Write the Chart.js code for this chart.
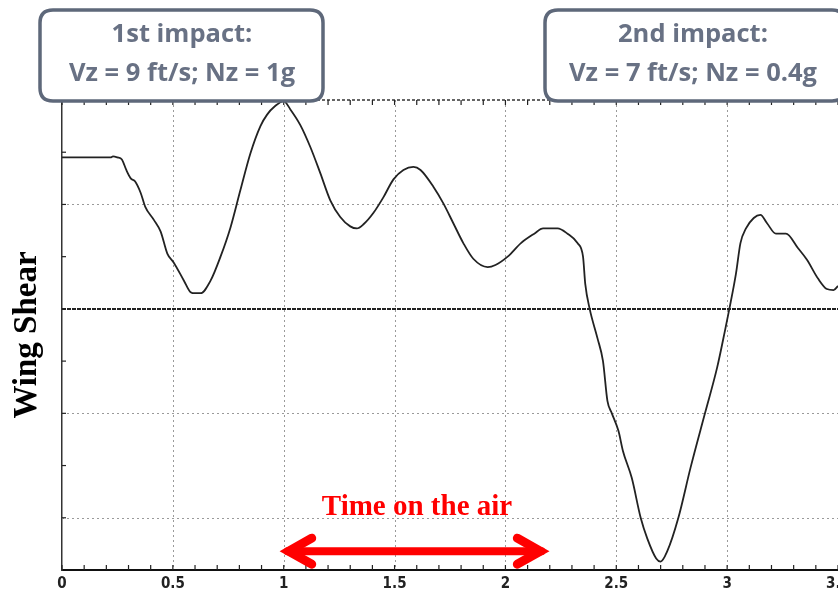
<!DOCTYPE html>
<meta charset="utf-8">
<html>
  <head>
    <script src="https://cdn.jsdelivr.net/npm/chart.js"></script>
    <style>
      body { margin: 0; background: #fff; }
      #wrap { width: 838px; height: 592px; position: relative; }
    </style>
  </head>
  <body>
    <div id="wrap">
      <canvas id="chart"></canvas>
    </div>
  </body>

  <script>
    // time (s) and wing shear
    const timeS = [
      0, 0.1, 0.219, 0.23, 0.25, 0.27, 0.29, 0.31, 0.33, 0.355, 0.375, 0.415, 0.445, 0.475, 0.505,
      0.55, 0.58, 0.6, 0.625, 0.67, 0.715, 0.76, 0.805, 0.85, 0.895, 0.925, 0.96, 1.0, 1.03,
      1.075, 1.12, 1.165, 1.21, 1.255, 1.3, 1.33, 1.36, 1.405, 1.45, 1.495, 1.54, 1.585, 1.617,
      1.675, 1.72, 1.765, 1.81, 1.855, 1.92, 1.955, 2.01, 2.07, 2.13, 2.17, 2.235, 2.28, 2.325,
      2.35, 2.36, 2.38, 2.415, 2.44, 2.46, 2.48, 2.51, 2.53, 2.57, 2.61, 2.64, 2.68, 2.7, 2.73,
      2.78, 2.835, 2.9, 2.955, 2.99, 3.01, 3.04, 3.06, 3.085, 3.12, 3.15, 3.18, 3.22, 3.265,
      3.32, 3.36, 3.41, 3.45, 3.48, 3.5
    ];
    const shear = [
      1.45, 1.45, 1.45, 1.46, 1.45, 1.43, 1.33, 1.25, 1.22, 1.11, 0.98, 0.85, 0.74, 0.53, 0.44,
      0.27, 0.16, 0.15, 0.15, 0.27, 0.5, 0.78, 1.14, 1.49, 1.75, 1.86, 1.94, 1.99, 1.91,
      1.76, 1.55, 1.3, 1.04, 0.88, 0.79, 0.77, 0.81, 0.92, 1.07, 1.24, 1.33, 1.36, 1.33,
      1.17, 1.01, 0.82, 0.63, 0.48, 0.4, 0.42, 0.5, 0.63, 0.72, 0.77, 0.77, 0.72, 0.63,
      0.5, 0.24, 0, -0.28, -0.5, -0.88, -1.0, -1.17, -1.36, -1.62, -2.0, -2.2, -2.39, -2.42, -2.32,
      -2.0, -1.52, -1.0, -0.56, -0.21, 0, 0.34, 0.63, 0.77, 0.87, 0.9, 0.82, 0.72, 0.72,
      0.58, 0.47, 0.29, 0.19, 0.18, 0.22
    ];
    const xTicks = [0, 0.5, 1, 1.5, 2, 2.5, 3, 3.5];
    const yGrid = [-2, -1, 0, 1, 2];

    const impacts = [
      { line1: '1st impact:', line2: 'Vz = 9 ft/s; Nz = 1g' },
      { line1: '2nd impact:', line2: 'Vz = 7 ft/s; Nz = 0.4g' }
    ];
    const airStart = 1.0;
    const airEnd = 2.18;
    const airLevel = -2.32;
    const airLabel = 'Time on the air';

    function roundRect(ctx, x, y, w, h, r) {
      ctx.beginPath();
      ctx.moveTo(x + r, y);
      ctx.lineTo(x + w - r, y);
      ctx.quadraticCurveTo(x + w, y, x + w, y + r);
      ctx.lineTo(x + w, y + h - r);
      ctx.quadraticCurveTo(x + w, y + h, x + w - r, y + h);
      ctx.lineTo(x + r, y + h);
      ctx.quadraticCurveTo(x, y + h, x, y + h - r);
      ctx.lineTo(x, y + r);
      ctx.quadraticCurveTo(x, y, x + r, y);
      ctx.closePath();
    }

    // dotted grid, drawn from the scales' own ticks
    const dottedGrid = {
      id: 'dottedGrid',
      beforeDatasetsDraw(chart) {
        const ctx = chart.ctx;
        const area = chart.chartArea;
        const xs = chart.scales.x;
        const ys = chart.scales.y;
        ctx.save();
        ctx.lineWidth = 1;
        ctx.strokeStyle = '#9a9a9a';
        ctx.setLineDash([2, 3]);
        xs.ticks.forEach(function(t) {
          if (t.value <= 0 || t.value >= 3.5) return;
          const px = Math.round(xs.getPixelForValue(t.value)) + 0.5;
          ctx.beginPath();
          ctx.moveTo(px, area.top);
          ctx.lineTo(px, area.bottom);
          ctx.stroke();
        });
        ys.ticks.forEach(function(t) {
          if (t.value === 0 || t.value >= 2) return;
          const py = Math.round(ys.getPixelForValue(t.value)) + 0.5;
          ctx.beginPath();
          ctx.moveTo(area.left, py);
          ctx.lineTo(area.right, py);
          ctx.stroke();
        });
        // zero line
        const y0 = ys.getPixelForValue(0);
        ctx.strokeStyle = '#222';
        ctx.lineWidth = 2;
        ctx.setLineDash([4, 1]);
        ctx.beginPath();
        ctx.moveTo(area.left, y0);
        ctx.lineTo(area.right, y0);
        ctx.stroke();
        ctx.restore();
      }
    };

    const extras = {
      id: 'extras',
      afterDraw(chart) {
        const ctx = chart.ctx;
        const area = chart.chartArea;
        const xs = chart.scales.x;
        const ys = chart.scales.y;
        ctx.save();

        // top border, dashed
        ctx.strokeStyle = '#333';
        ctx.lineWidth = 1.5;
        ctx.setLineDash([3, 2]);
        ctx.beginPath();
        ctx.moveTo(area.left, area.top);
        ctx.lineTo(area.right, area.top);
        ctx.stroke();
        ctx.setLineDash([]);

        // inner minor ticks
        ctx.strokeStyle = '#222';
        ctx.lineWidth = 1.2;
        for (let i = 0; i <= 35; i++) {
          const px = xs.getPixelForValue(i / 10);
          ctx.beginPath();
          ctx.moveTo(px, area.bottom);
          ctx.lineTo(px, area.bottom - 5);
          ctx.moveTo(px, area.top);
          ctx.lineTo(px, area.top + 5);
          ctx.stroke();
        }
        for (let v = -2; v <= 2; v += 0.5) {
          const py = ys.getPixelForValue(v);
          ctx.beginPath();
          ctx.moveTo(area.left, py);
          ctx.lineTo(area.left + 4, py);
          ctx.stroke();
        }

        // impact boxes
        const boxes = [{ x: 40, w: 283, cx: 182 }, { x: 545, w: 300, cx: 693 }];
        impacts.forEach(function(imp, i) {
          const b = boxes[i];
          roundRect(ctx, b.x, 10, b.w, 91, 13);
          ctx.fillStyle = '#fff';
          ctx.fill();
          ctx.strokeStyle = '#5e687a';
          ctx.lineWidth = 3.5;
          ctx.stroke();
          ctx.fillStyle = '#687184';
          ctx.font = 'bold 25.5px "Open Sans", "Noto Sans", sans-serif';
          ctx.textAlign = 'center';
          ctx.textBaseline = 'middle';
          ctx.fillText(imp.line1, b.cx, 35);
          ctx.fillText(imp.line2, b.cx, 74);
        });

        // time on the air arrow
        const ax1 = xs.getPixelForValue(airStart);
        const ax2 = xs.getPixelForValue(airEnd);
        const ay = ys.getPixelForValue(airLevel);
        ctx.strokeStyle = '#ff0000';
        ctx.lineCap = 'round';
        ctx.lineJoin = 'miter';
        ctx.lineWidth = 8;
        ctx.beginPath();
        ctx.moveTo(ax1 + 4, ay);
        ctx.lineTo(ax2 - 4, ay);
        ctx.stroke();
        ctx.lineWidth = 9;
        ctx.beginPath();
        ctx.moveTo(ax1 + 28, ay - 13);
        ctx.lineTo(ax1 + 5, ay);
        ctx.lineTo(ax1 + 28, ay + 13);
        ctx.moveTo(ax2 - 28, ay - 13);
        ctx.lineTo(ax2 - 5, ay);
        ctx.lineTo(ax2 - 28, ay + 13);
        ctx.stroke();

        ctx.fillStyle = '#ff0000';
        ctx.font = 'bold 29px "Liberation Serif", serif';
        ctx.textAlign = 'center';
        ctx.textBaseline = 'alphabetic';
        ctx.fillText(airLabel, 417, 515);

        ctx.restore();
      }
    };

    const points = timeS.map(function(t, i) { return { x: t, y: shear[i] }; });

    new Chart(document.getElementById('chart'), {
      type: 'line',
      data: {
        datasets: [{
          data: points,
          borderColor: '#222',
          borderWidth: 1.8,
          pointRadius: 0,
          cubicInterpolationMode: 'monotone',
          fill: false
        }]
      },
      options: {
        responsive: true,
        maintainAspectRatio: false,
        animation: false,
        layout: { padding: { top: 100, right: 0, left: 0, bottom: 0 } },
        plugins: {
          legend: { display: false },
          tooltip: { enabled: false }
        },
        scales: {
          x: {
            type: 'linear',
            min: 0,
            max: 3.5,
            afterBuildTicks: function(scale) {
              scale.ticks = xTicks.map(function(v) { return { value: v }; });
            },
            afterFit: function(scale) {
              scale.height = 22;
              scale.paddingRight = 0;
              scale.paddingLeft = 0;
            },
            ticks: {
              color: '#222',
              padding: 5,
              maxRotation: 0,
              font: { family: '"Liberation Sans Narrow", "DejaVu Sans Condensed", sans-serif', size: 15, weight: 'bold' },
              callback: function(v) { return String(v); }
            },
            grid: { display: false, drawTicks: false },
            border: { display: true, color: '#111', width: 2 }
          },
          y: {
            min: -2.5,
            max: 2,
            afterBuildTicks: function(scale) {
              scale.ticks = yGrid.map(function(v) { return { value: v }; });
            },
            afterFit: function(scale) {
              scale.width = 62;
            },
            ticks: { display: false },
            title: {
              display: true,
              text: 'Wing Shear',
              color: '#000',
              font: { family: '"Liberation Serif", serif', size: 33, weight: 'bold' },
              padding: { top: 8, bottom: 0 }
            },
            grid: { display: false, drawTicks: false },
            border: { display: true, color: '#333', width: 1.5, dash: [3, 2] }
          }
        }
      },
      plugins: [dottedGrid, extras]
    });
  </script>
</html>
